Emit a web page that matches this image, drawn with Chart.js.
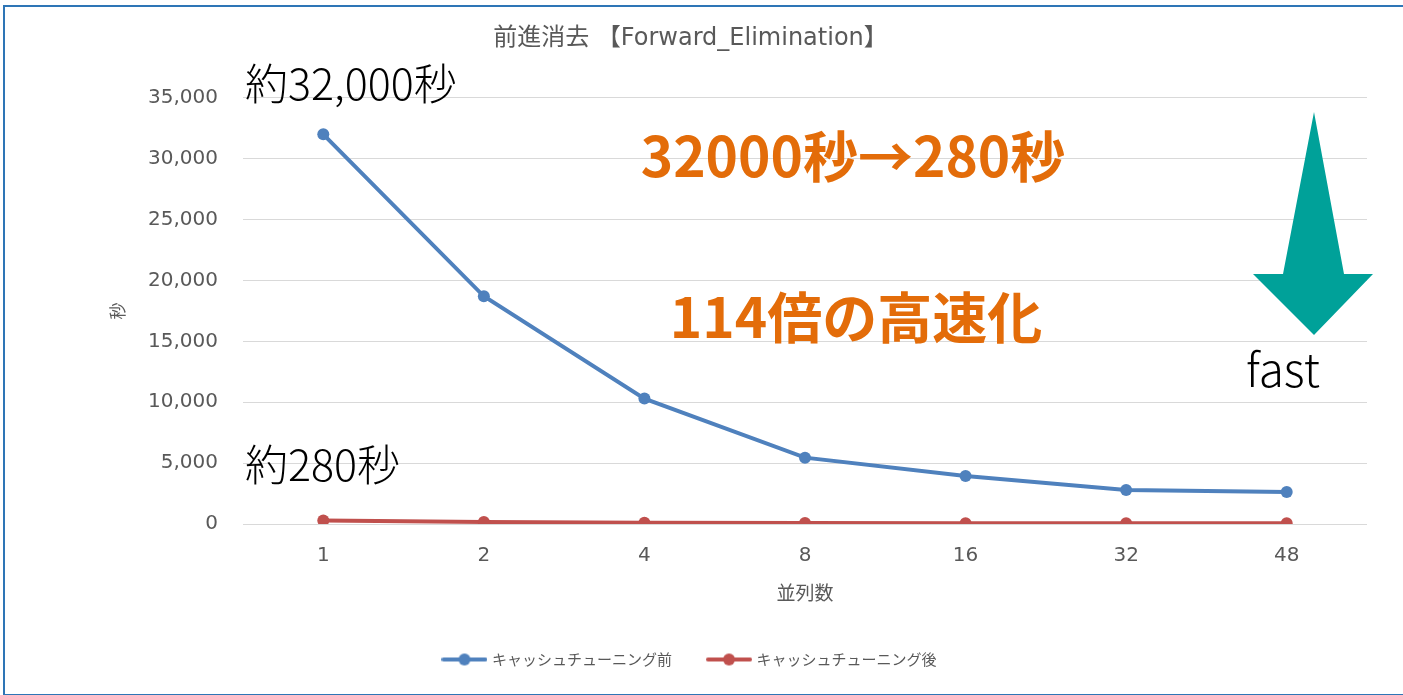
<!DOCTYPE html>
<html lang="ja">
<head>
<meta charset="utf-8">
<title>前進消去 【Forward_Elimination】</title>
<script src="https://cdn.jsdelivr.net/npm/chart.js@4.4.1/dist/chart.umd.min.js"></script>
<style>
  html, body { margin: 0; padding: 0; background: #fff; }
  #wrap { position: relative; width: 1403px; height: 695px; overflow: hidden; }
  #frame { position: absolute; left: 3px; top: 5px; width: 1410px; height: 687px; border: 2px solid #2E75B6; pointer-events: none; }
  canvas { position: absolute; left: 0; top: 0; }
</style>
</head>
<body>
<div id="wrap">
  <canvas id="forwardChart" width="1403" height="695"></canvas>
  <div id="frame"></div>
</div>
<script>
const threads = ['1', '2', '4', '8', '16', '32', '48'];
const beforeTuning = [32000, 18700, 10300, 5450, 3950, 2800, 2630];
const afterTuning = [280, 170, 100, 80, 70, 65, 60];
const yTicks = [0, 5000, 10000, 15000, 20000, 25000, 30000, 35000];

const FONT = '"Noto Sans CJK JP", "Noto Sans", sans-serif';
const WIDE = '"DejaVu Sans", "Noto Sans CJK JP", sans-serif';
const GRAY = '#595959';
const BLUE = '#4F81BD';
const RED = '#C0504D';
const ORANGE = '#E36C09';
const TEAL = '#00A199';

// legend marker: short line with a dot in the middle
function legendMarker(color) {
    const c = document.createElement('canvas');
    c.width = 46;
    c.height = 14;
    const g = c.getContext('2d');
    g.strokeStyle = color;
    g.lineWidth = 4;
    g.lineCap = 'round';
    g.beginPath();
    g.moveTo(2, 7);
    g.lineTo(44, 7);
    g.stroke();
    g.fillStyle = color;
    g.beginPath();
    g.arc(23, 7, 6, 0, Math.PI * 2);
    g.fill();
    return c;
}

// callout texts and the "fast" arrow on top of the plot
const calloutPlugin = {
    id: 'callouts',
    afterDatasetsDraw(chart) {
        const { ctx, chartArea: a } = chart;
        ctx.save();
        ctx.textBaseline = 'middle';

        ctx.fillStyle = '#000';
        ctx.font = '300 43px ' + FONT;
        ctx.textAlign = 'left';
        ctx.fillText('約32,000秒', a.left + 2, 84);
        ctx.fillText('約280秒', a.left + 2, 465);

        ctx.fillStyle = ORANGE;
        ctx.font = 'bold 55px ' + FONT;
        ctx.textAlign = 'center';
        ctx.fillText('32000秒→280秒', 853, 156);
        ctx.fillText('114倍の高速化', 856, 317);

        // down arrow
        ctx.fillStyle = TEAL;
        ctx.beginPath();
        ctx.moveTo(1314, 112);
        ctx.lineTo(1344, 274);
        ctx.lineTo(1373, 274);
        ctx.lineTo(1314, 335);
        ctx.lineTo(1253, 274);
        ctx.lineTo(1283, 274);
        ctx.closePath();
        ctx.fill();

        ctx.fillStyle = '#000';
        ctx.font = '300 46px ' + FONT;
        ctx.textAlign = 'left';
        ctx.fillText('fast', 1246, 370);
        ctx.restore();
    }
};

new Chart(document.getElementById('forwardChart'), {
    type: 'line',
    data: {
        labels: threads,
        datasets: [{
            label: 'キャッシュチューニング前',
            data: beforeTuning,
            borderColor: BLUE,
            backgroundColor: BLUE,
            borderWidth: 4,
            pointRadius: 6,
            pointBorderWidth: 0,
            pointHoverRadius: 6,
            tension: 0
        }, {
            label: 'キャッシュチューニング後',
            data: afterTuning,
            borderColor: RED,
            backgroundColor: RED,
            borderWidth: 4,
            pointRadius: 6,
            pointBorderWidth: 0,
            pointHoverRadius: 6,
            tension: 0
        }]
    },
    options: {
        responsive: false,
        animation: false,
        layout: { padding: { left: 14, right: 36, top: 0, bottom: 18 } },
        plugins: {
            title: {
                display: true,
                text: '前進消去 【Forward_Elimination】',
                color: GRAY,
                font: { family: WIDE, size: 24, weight: 'normal' },
                padding: { top: 24, bottom: 45 }
            },
            legend: {
                position: 'bottom',
                labels: {
                    color: GRAY,
                    font: { family: FONT, size: 15 },
                    usePointStyle: true,
                    pointStyleWidth: 40,
                    padding: 22,
                    generateLabels(chart) {
                        return chart.data.datasets.map((ds, i) => ({
                            // extra em space widens the gap before the next entry
                            text: i === 0 ? ds.label + '\u2003' : ds.label,
                            fillStyle: ds.borderColor,
                            strokeStyle: ds.borderColor,
                            fontColor: GRAY,
                            lineWidth: 0,
                            pointStyle: legendMarker(ds.borderColor),
                            hidden: false,
                            datasetIndex: i
                        }));
                    }
                }
            },
            tooltip: { enabled: false }
        },
        scales: {
            x: {
                offset: true,
                grid: { display: false, drawTicks: false },
                border: { display: false },
                ticks: { color: GRAY, font: { family: WIDE, size: 20 }, padding: 20 },
                title: {
                    display: true,
                    text: '並列数',
                    color: GRAY,
                    font: { family: FONT, size: 19 },
                    padding: { bottom: 26 }
                },
                afterFit(scale) { scale.height = 106; }
            },
            y: {
                min: 0,
                max: 35000,
                afterBuildTicks(scale) { scale.ticks = yTicks.map(v => ({ value: v })); },
                grid: { color: '#D9D9D9', lineWidth: 1, drawTicks: false },
                border: { display: false },
                ticks: {
                    color: GRAY,
                    font: { family: WIDE, size: 20 },
                    padding: 25,
                    callback: v => v.toLocaleString('en-US')
                },
                title: {
                    display: true,
                    text: '秒',
                    color: GRAY,
                    font: { family: FONT, size: 17 },
                    padding: { top: 93 }
                },
                afterFit(scale) { scale.width = 229; }
            }
        }
    },
    plugins: [calloutPlugin]
});
</script>
</body>
</html>
